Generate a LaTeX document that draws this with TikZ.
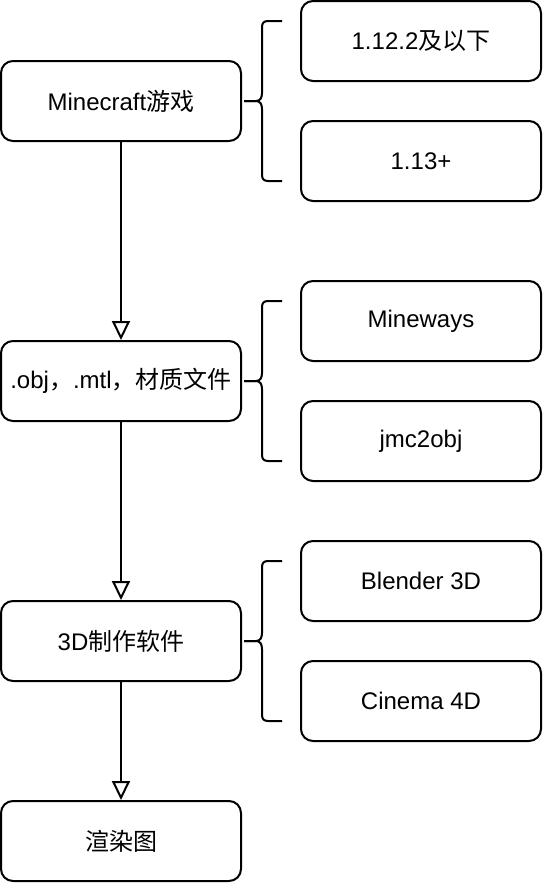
\documentclass[tikz,border=0pt]{standalone}
\usepackage{fontspec}
\setmainfont{Liberation Sans}
\newfontfamily\cjk{Noto Sans CJK SC}
\usetikzlibrary{arrows.meta}
\tikzset{
  box/.style={draw=black, line width=2pt, rounded corners=12pt, minimum width=240pt, minimum height=80pt, inner sep=0pt, fill=white, font=\fontsize{24}{28}\selectfont, text=black},
  flow/.style={draw=black, line width=2pt, -{Triangle[open, width=18pt, length=19pt]}},
  bracepath/.style={draw=black, line width=2pt},
}
\newcommand\mybrace[2]{% #1 = node name, #2 = half-height
  \draw[bracepath] ([xshift=2pt]#1.east) -- ++(12pt,0)
     .. controls ++(4pt,0) and ++(0,-5pt) .. ++(6pt,8pt) -- ++(0,#2-14pt)
     .. controls ++(0,4pt) and ++(-4pt,0) .. ++(6pt,6pt) -- ++(14pt,0);
  \draw[bracepath] ([xshift=2pt]#1.east) -- ++(12pt,0)
     .. controls ++(4pt,0) and ++(0,5pt) .. ++(6pt,-8pt) -- ++(0,-#2+14pt)
     .. controls ++(0,-4pt) and ++(-4pt,0) .. ++(6pt,-6pt) -- ++(14pt,0);
}
\begin{document}
\begin{tikzpicture}[x=1pt, y=-1pt]
\useasboundingbox (0,0) rectangle (544,884);
\node[box] (game) at (121,101) {Minecraft{\cjk 游戏}};
\node[box] (obj) at (121,381) {.obj{\cjk ，}.mtl{\cjk ，材质文件}};
\node[box] (soft) at (121,641) {3D{\cjk 制作软件}};
\node[box] (render) at (121,841) {{\cjk 渲染图}};
\node[box] (v112) at (421,41) {1.12.2{\cjk 及以下}};
\node[box] (v113) at (421,161) {1.13+};
\node[box] (mineways) at (421,321) {Mineways};
\node[box] (jmc) at (421,441) {jmc2obj};
\node[box] (blender) at (421,581) {Blender 3D};
\node[box] (cinema) at (421,701) {Cinema 4D};
\draw[flow] (game.south) -- (obj.north);
\draw[flow] (obj.south) -- (soft.north);
\draw[flow] (soft.south) -- (render.north);
\mybrace{game}{80pt}
\mybrace{obj}{80pt}
\mybrace{soft}{80pt}
\end{tikzpicture}
\end{document}
